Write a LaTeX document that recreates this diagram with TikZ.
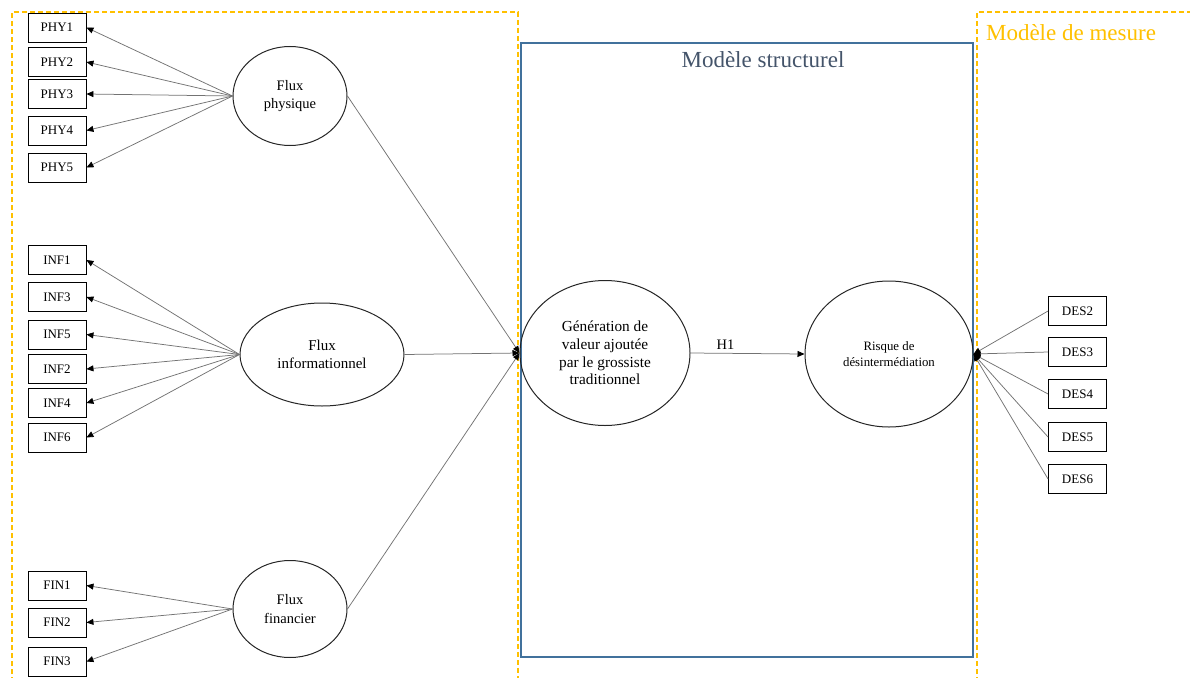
\documentclass[tikz,border=0pt]{standalone}
\usepackage{fontspec}
\setmainfont{Liberation Serif}
\usetikzlibrary{shapes}
\usetikzlibrary{arrows.meta}
\definecolor{gold}{HTML}{FFC000}
\definecolor{steel}{HTML}{41719C}
\definecolor{slate}{HTML}{44546A}
\tikzset{
    indbox/.style = {rectangle, draw=black, line width=0.9pt, minimum width=58pt, minimum height=29pt, inner sep=0pt, font=\fontsize{13}{15}\selectfont},
    latent/.style = {ellipse, draw=black!85, line width=1pt, inner sep=0pt, align=center, font=\fontsize{14.5}{18.3}\selectfont},
    edgen/.style = {-{Triangle[length=7pt,width=6pt,color=black]}, draw=black!55, line width=0.75pt},
    zone/.style = {draw=gold, line width=1.5pt, dash pattern=on 5pt off 3pt},
    structbox/.style = {draw=steel, line width=1.3pt},
    title/.style = {font=\fontsize{23}{26}\selectfont}
}

\begin{document}
\begin{tikzpicture}[x=1pt,y=-1pt]
\useasboundingbox (0,0) rectangle (1190,677);
% zones
\draw[zone] (12,690) -- (12,12) -- (518,12) -- (518,690);
\draw[zone] (977,690) -- (977,12) -- (1200,12);
\draw[structbox] (521,43) rectangle (973,657);
\node[title, text=slate] at (763,60) (tstruct) {Modèle structurel};
\node[title, text=gold] at (1071,33) (tmesure) {Modèle de mesure};
%
\node[latent, minimum width=114pt, minimum height=99pt] at (290,96) (fphy) {Flux\\physique};
\node[latent, minimum width=164pt, minimum height=103pt, font=\fontsize{15}{18.3}\selectfont] at (322,354.5) (finf) {Flux\\informationnel};
\node[latent, minimum width=114pt, minimum height=97pt] at (290,609) (ffin) {Flux\\financier};
\node[latent, minimum width=170pt, minimum height=145pt, font=\fontsize{15.3}{17.7}\selectfont] at (605,353) (gen) {Génération de\\valeur ajoutée\\par le grossiste\\traditionnel};
\node[latent, minimum width=168pt, minimum height=146pt, font=\fontsize{12.8}{16.5}\selectfont] at (889,354) (risk) {Risque de\\désintermédiation};
%
\node[indbox] at (57,27.5) (phy1) {PHY1};
\node[indbox] at (57,62) (phy2) {PHY2};
\node[indbox] at (57,94) (phy3) {PHY3};
\node[indbox] at (57,130.5) (phy4) {PHY4};
\node[indbox] at (57,167.5) (phy5) {PHY5};
%
\node[indbox] at (57,260) (inf1) {INF1};
\node[indbox] at (57,297) (inf3) {INF3};
\node[indbox] at (57,334.5) (inf5) {INF5};
\node[indbox] at (57,369) (inf2) {INF2};
\node[indbox] at (57,403) (inf4) {INF4};
\node[indbox] at (57,437.5) (inf6) {INF6};
%
\node[indbox] at (57,585.5) (fin1) {FIN1};
\node[indbox] at (57,622.5) (fin2) {FIN2};
\node[indbox] at (57,661.5) (fin3) {FIN3};
%
\node[indbox] at (1077.5,311) (des2) {DES2};
\node[indbox] at (1077.5,352) (des3) {DES3};
\node[indbox] at (1077.5,394) (des4) {DES4};
\node[indbox] at (1077.5,437) (des5) {DES5};
\node[indbox] at (1077.5,479) (des6) {DES6};
%
\draw[edgen] (fphy.west) -- (phy1.east);
\draw[edgen] (fphy.west) -- (phy2.east);
\draw[edgen] (fphy.west) -- (phy3.east);
\draw[edgen] (fphy.west) -- (phy4.east);
\draw[edgen] (fphy.west) -- (phy5.east);
\draw[edgen] (finf.west) -- (inf1.east);
\draw[edgen] (finf.west) -- (inf3.east);
\draw[edgen] (finf.west) -- (inf5.east);
\draw[edgen] (finf.west) -- (inf2.east);
\draw[edgen] (finf.west) -- (inf4.east);
\draw[edgen] (finf.west) -- (inf6.east);
\draw[edgen] (ffin.west) -- (fin1.east);
\draw[edgen] (ffin.west) -- (fin2.east);
\draw[edgen] (ffin.west) -- (fin3.east);
%
\draw[edgen] (fphy.east) -- (gen.west);
\draw[edgen] (finf.east) -- (gen.west);
\draw[edgen] (ffin.east) -- (gen.west);
\draw[edgen] (gen.east) -- node[above, font=\fontsize{14.5}{17}\selectfont, xshift=-22pt, text=black] {H1} (risk.west);
%
\draw[edgen] (des2.west) -- (risk.east);
\draw[edgen] (des3.west) -- (risk.east);
\draw[edgen] (des4.west) -- (risk.east);
\draw[edgen] (des5.west) -- (risk.east);
\draw[edgen] (des6.west) -- (risk.east);

\end{tikzpicture}
\end{document}
